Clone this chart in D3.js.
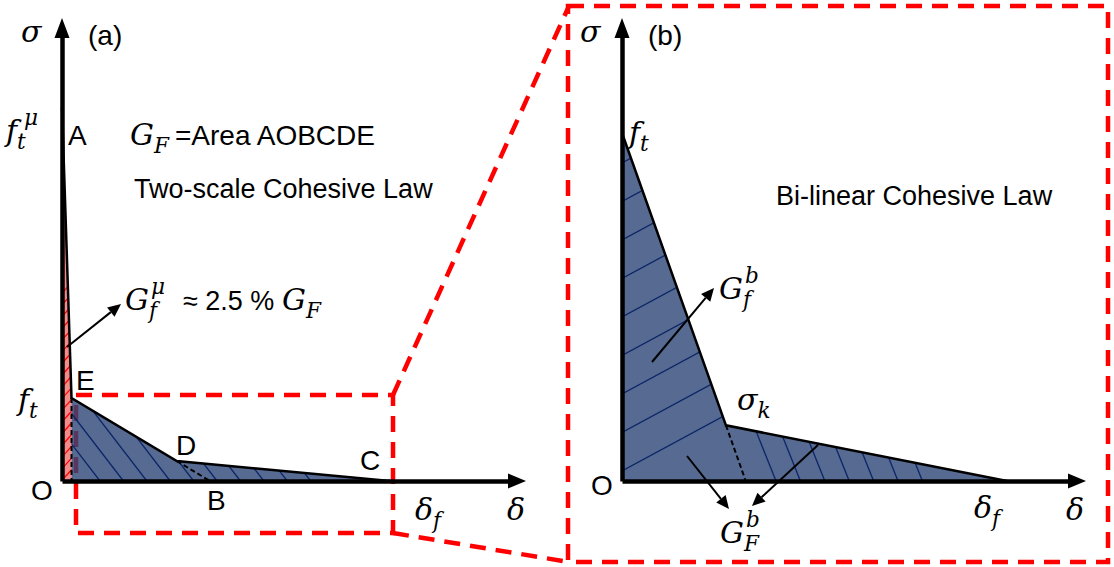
<!DOCTYPE html>
<html>
<head>
<meta charset="utf-8">
<script src="https://cdn.jsdelivr.net/npm/d3@7"></script>
<style>
	body { margin: 0; background: #fff; }
	.sans { font-family: "Liberation Sans", Arial, sans-serif; fill: #000; }
	.math { font-family: "DejaVu Serif", "Liberation Serif", serif; font-style: italic; fill: #000; }
</style>
</head>
<body>
<script>
//	(a) two-scale cohesive law, points A, E, D, C  (delta / delta_f of the zoom box, sigma / f_t)
var deltaA = [0, 0.029, 0.35, 1];
var sigmaA = [4.5, 1, 0.24, 0];
var namesA = ["A", "E", "D", "C"];

//	(b) bi-linear cohesive law, points f_t, kink, delta_f
var deltaB = [0, 0.27, 1];
var sigmaB = [1, 0.16, 0];

var W = 1114, H = 567;
var svg = d3.select("body").append("svg").attr("width", W).attr("height", H);
var defs = svg.append("defs");

var blueFill = "rgb(44,69,119)";
var hatchBlue = "#0b2566";
var red = "#ff0000";

//	scales
var xA = d3.scaleLinear().domain([0, 1]).range([62, 390]);
var yA = d3.scaleLinear().domain([0, 1]).range([481, 398]);
var xB = d3.scaleLinear().domain([0, 1]).range([622, 1007]);
var yB = d3.scaleLinear().domain([0, 1]).range([481, 133]);

var ptsA = deltaA.map(function(d, i){ return [xA(d), yA(sigmaA[i])]; });
var ptsB = deltaB.map(function(d, i){ return [xB(d), yB(sigmaB[i])]; });

//	where the softening branch E-D (and f_t-kink) would hit the axis
var dB_a = deltaA[1] + (deltaA[2] - deltaA[1]) * sigmaA[1] / (sigmaA[1] - sigmaA[2]);
var dB_b = deltaB[0] + (deltaB[1] - deltaB[0]) * sigmaB[0] / (sigmaB[0] - sigmaB[1]);
var pB_a = [xA(dB_a), yA(0)];
var pB_b = [xB(dB_b), yB(0)];

function toPts(arr) { return arr.map(function(p){ return p.join(","); }).join(" "); }

//==============================\\
// red zoom frames
//==============================\\
var frames = svg.append("g").attr("fill", "none").attr("stroke", red)
	.attr("stroke-width", 4.5).attr("stroke-dasharray", "16,10");
frames.append("rect").attr("x", 76).attr("y", 395).attr("width", 317).attr("height", 138);
frames.append("path").attr("d", "M393,395 L569,6");
frames.append("path").attr("d", "M393,533 L569,562");
frames.append("rect").attr("x", 568).attr("y", 6).attr("width", 540).attr("height", 556);

//==============================\\
// fills
//==============================\\
var redPoly = [ptsA[0], ptsA[1], [ptsA[1][0], yA(0)], [xA(0), yA(0)]];
var bluePolyA = [ptsA[1], ptsA[2], ptsA[3], [ptsA[1][0], yA(0)]];
var bluePolyB = [ptsB[0], ptsB[1], ptsB[2], [xB(0), yB(0)]];

svg.append("polygon").attr("points", toPts(redPoly)).attr("fill", "#f48a8a");
svg.append("polygon").attr("points", toPts(bluePolyA)).attr("fill", blueFill).attr("fill-opacity", 0.8);
svg.append("polygon").attr("points", toPts(bluePolyB)).attr("fill", blueFill).attr("fill-opacity", 0.8);

//	hatching, clipped to a polygon
function hatch(id, poly, lines, color) {
	defs.append("clipPath").attr("id", id).append("polygon").attr("points", toPts(poly));
	svg.append("g").attr("clip-path", "url(#" + id + ")")
		.selectAll("line").data(lines).join("line")
		.attr("x1", function(d){ return d[0]; }).attr("y1", function(d){ return d[1]; })
		.attr("x2", function(d){ return d[2]; }).attr("y2", function(d){ return d[3]; })
		.attr("stroke", color).attr("stroke-width", 1.3);
}

var y0 = yA(0);
hatch("clipRed", redPoly, d3.range(492, 290, -11.7).map(function(y){ return [xA(0), y, xA(0) + 20, y - 22]; }), red);
hatch("clipA", bluePolyA, d3.range(100, 320, 23.4).map(function(bx){ return [bx - 300, y0 - 390, bx, y0]; }), hatchBlue);
hatch("clipBl", [ptsB[0], ptsB[1], pB_b, [xB(0), yB(0)]],
	d3.range(471, 150, -38.5).map(function(y){ return [xB(0), y, xB(0) + 300, y - 162]; }), hatchBlue);
hatch("clipBr", [ptsB[1], ptsB[2], pB_b],
	d3.range(776, 930, 24.4).map(function(bx){ return [bx - 100, yB(0) - 250, bx, yB(0)]; }), hatchBlue);

//==============================\\
// curves
//==============================\\
var line = d3.line();
svg.append("path").attr("d", line(ptsA)).attr("fill", "none").attr("stroke", "#000").attr("stroke-width", 2.5);
svg.append("path").attr("d", line(ptsB)).attr("fill", "none").attr("stroke", "#000").attr("stroke-width", 2.5);

var dashed = svg.append("g").attr("stroke", "#000").attr("stroke-width", 2).attr("stroke-dasharray", "5,3");
dashed.append("path").attr("d", line([ptsA[2], pB_a]));
dashed.append("path").attr("d", line([ptsA[1], [ptsA[1][0], yA(0)]]));
dashed.append("path").attr("d", line([ptsB[1], pB_b]));

//==============================\\
// axes with arrow heads
//==============================\\
function arrowHead(x, y, dir, len, wid) {
	//	dir: "up" or "right"
	var p = dir == "up"
		? [[x, y], [x - wid/2, y + len], [x + wid/2, y + len]]
		: [[x, y], [x - len, y - wid/2], [x - len, y + wid/2]];
	svg.append("polygon").attr("points", toPts(p)).attr("fill", "#000");
}

function drawAxes(xs, ys, xEnd, yEnd) {
	var xAx = xs.copy().domain([0, xs.invert(xEnd - 14)]).range([xs(0), xEnd - 14]);
	var yAx = ys.copy().domain([0, ys.invert(yEnd + 16)]).range([ys(0), yEnd + 16]);
	svg.append("g").attr("transform", "translate(0," + ys(0) + ")")
		.call(d3.axisBottom(xAx).tickValues([]).tickSizeOuter(0));
	svg.append("g").attr("transform", "translate(" + xs(0) + ",0)")
		.call(d3.axisLeft(yAx).tickValues([]).tickSizeOuter(0));
	svg.selectAll(".domain").attr("stroke", "#000").attr("stroke-width", 4.5);
	arrowHead(xEnd, ys(0), "right", 18, 15);
	arrowHead(xs(0), yEnd, "up", 20, 15);
}
drawAxes(xA, yA, 526, 18);
drawAxes(xB, yB, 1086, 18);

//==============================\\
// pointers
//==============================\\
function pointer(x1, y1, x2, y2) {
	var a = Math.atan2(y2 - y1, x2 - x1), L = 13, w = 6;
	var bx = x2 - L * Math.cos(a), by = y2 - L * Math.sin(a);
	svg.append("line").attr("x1", x1).attr("y1", y1).attr("x2", bx).attr("y2", by)
		.attr("stroke", "#000").attr("stroke-width", 2);
	svg.append("polygon").attr("points", toPts([
		[x2, y2],
		[bx + w * Math.sin(a), by - w * Math.cos(a)],
		[bx - w * Math.sin(a), by + w * Math.cos(a)]
	])).attr("fill", "#000");
}
pointer(67, 347, 121, 304);
pointer(652, 362, 714, 288);
pointer(687, 456, 729, 509);
pointer(818, 445, 752, 506);

//==============================\\
// texts
//==============================\\
function sans(x, y, s, size) {
	return svg.append("text").attr("class", "sans").attr("x", x).attr("y", y)
		.style("font-size", (size || 27) + "px").text(s);
}
//	italic symbol with optional subscript / superscript (supDx shifts the superscript)
function math(x, y, main, sub, sup, size, supDx) {
	size = size || 30;
	var t = svg.append("text").attr("class", "math").attr("x", x).attr("y", y)
		.style("font-size", size + "px").text(main);
	var w = t.node().getComputedTextLength();
	if (sub) svg.append("text").attr("class", "math").attr("x", x + w).attr("y", y + size * 0.28)
		.style("font-size", (size * 0.72) + "px").text(sub);
	if (sup) svg.append("text").attr("class", "math").attr("x", x + w + 2 + (supDx || 0)).attr("y", y - size * 0.55)
		.style("font-size", (size * 0.72) + "px").text(sup);
	return x + w;
}

//	panel (a)
math(21, 42, "σ");
sans(88, 45, "(a)", 28);
math(6, 141, "f", "t", "μ", 30, 5);
sans(68, 145, namesA[0], 28);
math(130, 145, "G", "F");
sans(175, 145, "=Area AOBCDE", 28);
sans(134, 198, "Two-scale Cohesive Law");
math(125, 310, "G", "f", "μ");
sans(183, 310, "≈ 2.5 %");
math(282, 310, "G", "F");
sans(76, 390, namesA[1], 28);
math(18, 410, "f", "t");
sans(176, 455, namesA[2], 28);
sans(360, 470, namesA[3], 28);
sans(207, 510, "B", 28);
sans(31, 500, "O", 28);
math(415, 520, "δ", "f");
math(507, 520, "δ");

//	panel (b)
math(580, 42, "σ");
sans(648, 45, "(b)", 28);
math(629, 143, "f", "t");
sans(776, 205, "Bi-linear Cohesive Law");
math(719, 299, "G", "f", "b");
math(737, 410, "σ", "k");
sans(591, 495, "O", 28);
math(974, 518, "δ", "f");
math(1066, 520, "δ");
math(720, 543, "G", "F", "b");
</script>
</body>
</html>
